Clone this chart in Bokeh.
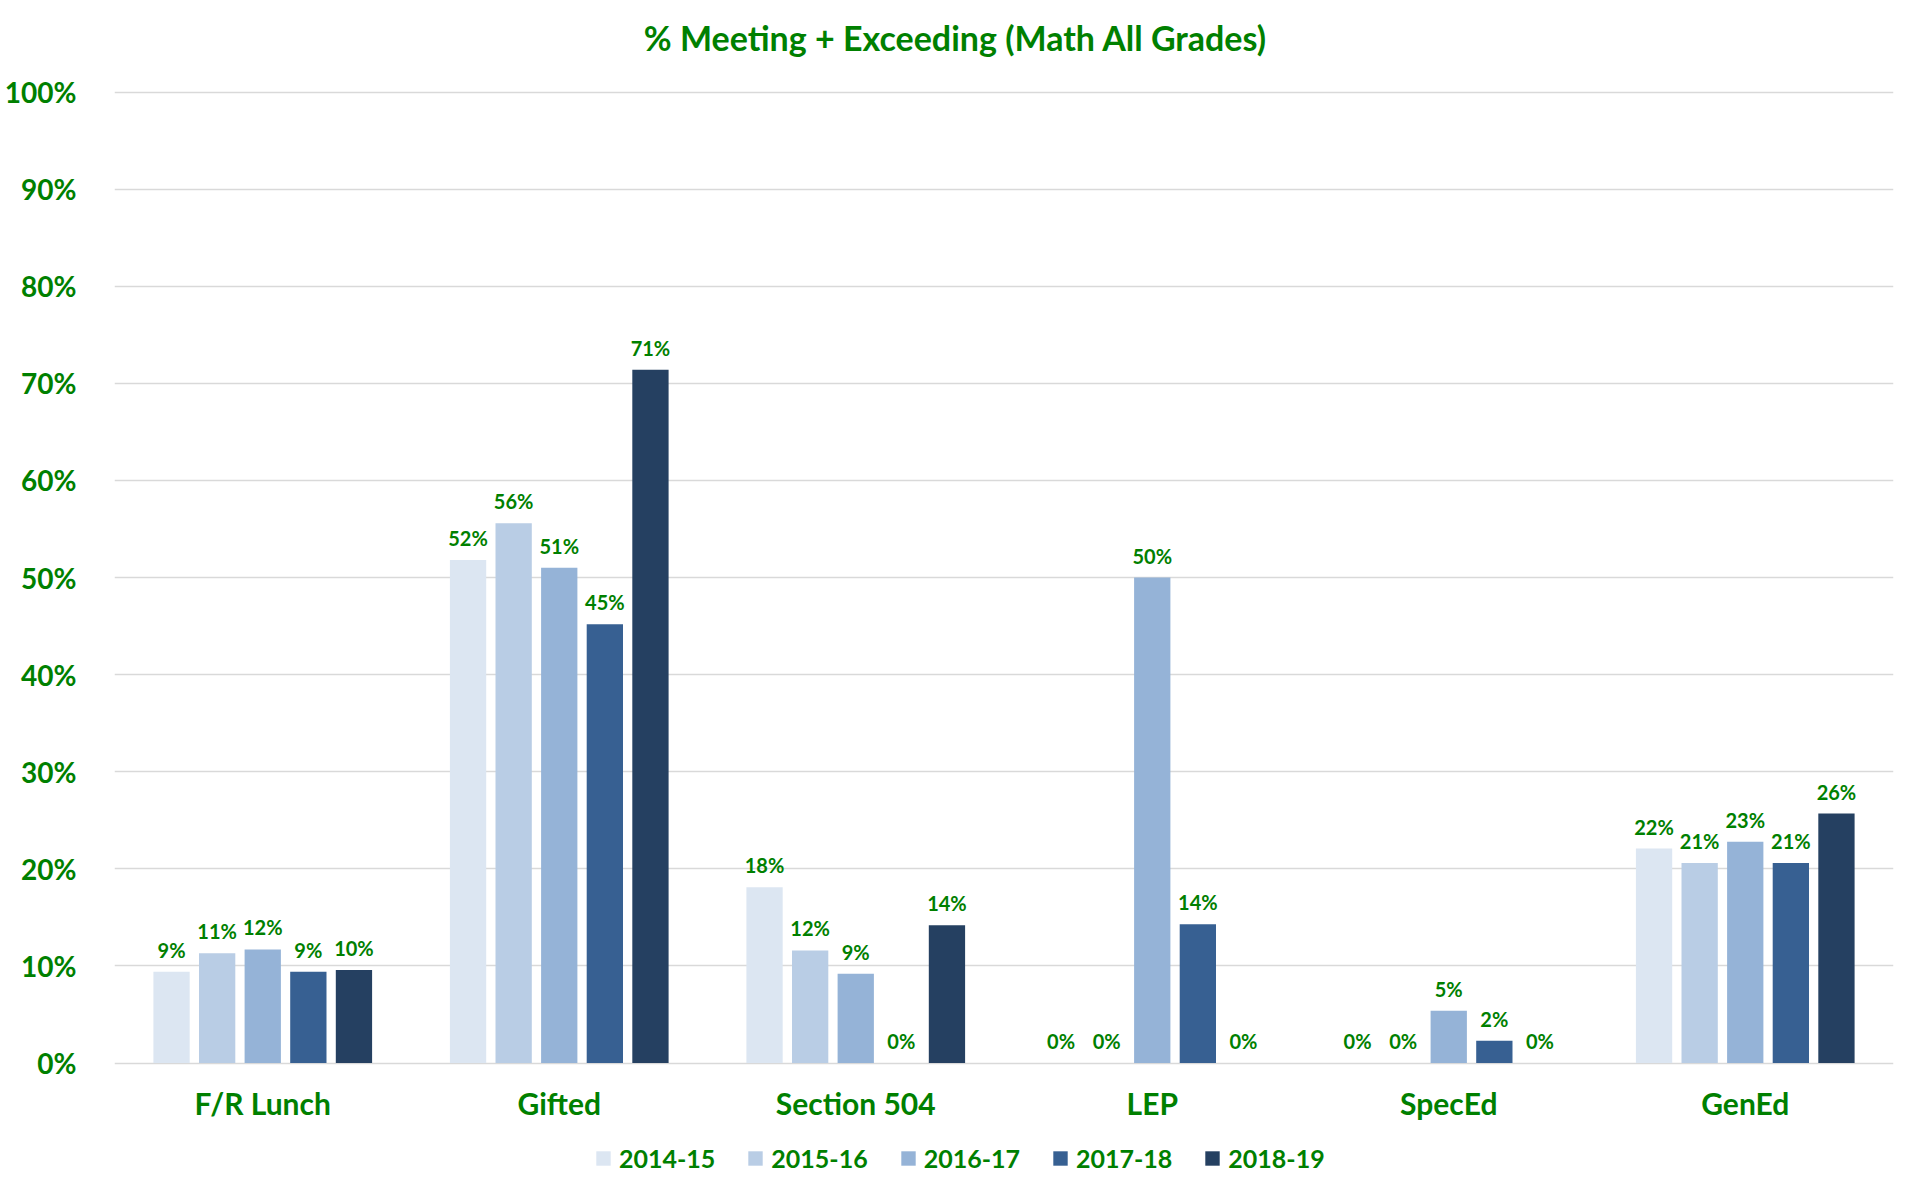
from bokeh.plotting import figure
from bokeh.models import (ColumnDataSource, FactorRange, Range1d, FixedTicker, NumeralTickFormatter,
                          Legend, LegendItem, LabelSet, Label)
from bokeh.core.properties import value
from bokeh.transform import dodge
from bokeh.embed import file_html
from bokeh.resources import INLINE

categories = ["F/R Lunch", "Gifted", "Section 504", "LEP", "SpecEd", "GenEd"]
years = ["2014-15", "2015-16", "2016-17", "2017-18", "2018-19"]
v2014_15 = [9.4, 51.8, 18.1, 0.0, 0.0, 22.1]
v2015_16 = [11.3, 55.6, 11.6, 0.0, 0.0, 20.6]
v2016_17 = [11.7, 51.0, 9.2, 50.0, 5.4, 22.8]
v2017_18 = [9.4, 45.2, 0.0, 14.3, 2.3, 20.6]
v2018_19 = [9.6, 71.4, 14.2, 0.0, 0.0, 25.7]
y_ticks = [0, 10, 20, 30, 40, 50, 60, 70, 80, 90, 100]
title_text = "% Meeting + Exceeding (Math All Grades)"

series = [v2014_15, v2015_16, v2016_17, v2017_18, v2018_19]
colors = ["#DCE6F2", "#B9CDE5", "#95B3D7", "#376092", "#254061"]
GREEN = "#008000"
FONT = "Lato"

data = {"cat": categories}
for i, s in enumerate(series):
    data[f"y{i}"] = [v / 100.0 for v in s]
    data[f"t{i}"] = [f"{round(v)}%" for v in s]
source = ColumnDataSource(data)

# frame covers the whole canvas height: 971 px per unit, 0 at y=1062.6, top at y=0, bottom at y=1190
p = figure(x_range=FactorRange(*categories, range_padding=0, factor_padding=0),
           y_range=Range1d(-0.1312, 1.0943),
           width=1907, height=1190, title=None,
           output_backend="svg", toolbar_location=None,
           min_border_left=114, min_border_right=14, min_border_top=0, min_border_bottom=0)

pitch = 0.1538
bw = 0.1224
items = []
for i, yr in enumerate(years):
    off = (i - 2) * pitch
    r = p.vbar(x=dodge("cat", off, range=p.x_range), top=f"y{i}", bottom=0, width=bw, source=source,
               fill_color=colors[i], line_color=None)
    items.append(LegendItem(label=yr, renderers=[r]))
    ls = LabelSet(x=dodge("cat", off, range=p.x_range), y=f"y{i}", text=f"t{i}", source=source,
                  y_offset=14, text_align="center", text_baseline="alphabetic",
                  text_font=value(FONT), text_font_style="bold", text_font_size="20px",
                  text_color=GREEN)
    p.add_layout(ls)

p.outline_line_color = None
p.background_fill_color = "white"
p.border_fill_color = "white"
p.xgrid.grid_line_color = None
p.ygrid.grid_line_color = "#D9D9D9"
p.ygrid.grid_line_width = 1.3
p.ygrid.ticker = FixedTicker(ticks=[t / 100 for t in y_ticks])

p.yaxis.ticker = FixedTicker(ticks=[t / 100 for t in y_ticks])
p.yaxis.formatter = NumeralTickFormatter(format="0%")
p.yaxis.axis_line_color = None
p.yaxis.major_tick_line_color = None
p.yaxis.minor_tick_line_color = None
p.yaxis.major_label_standoff = 32
p.yaxis.major_label_text_font = FONT
p.yaxis.major_label_text_font_style = "bold"
p.yaxis.major_label_text_font_size = "28px"
p.yaxis.major_label_text_color = GREEN

p.xaxis.fixed_location = 0
p.xaxis.axis_line_color = None
p.xaxis.major_tick_line_color = None
p.xaxis.minor_tick_line_color = None
p.xaxis.major_label_standoff = 16
p.xaxis.major_label_text_font = FONT
p.xaxis.major_label_text_font_style = "bold"
p.xaxis.major_label_text_font_size = "30px"
p.xaxis.major_label_text_color = GREEN

title = Label(x=841, y=1153, x_units="screen", y_units="screen", text=title_text,
              text_align="center", text_baseline="alphabetic",
              text_font=FONT, text_font_style="bold", text_font_size="34px", text_color=GREEN)
p.add_layout(title)

legend = Legend(items=items, orientation="horizontal", location=(480, 17),
                glyph_width=18, glyph_height=18, label_standoff=7, spacing=31,
                padding=0, margin=0, border_line_color=None, background_fill_alpha=0,
                label_text_font=FONT, label_text_font_style="bold", label_text_font_size="25px",
                label_text_color=GREEN)
p.add_layout(legend, "center")

open("out.html", "w").write(file_html(p, INLINE))
